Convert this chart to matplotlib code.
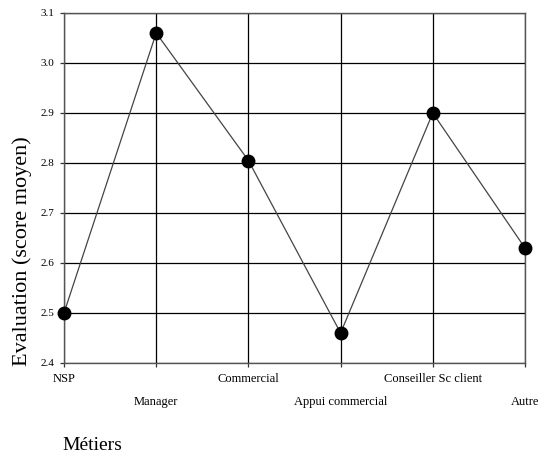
import matplotlib
matplotlib.use("Agg")
import matplotlib.pyplot as plt

categories = ["NSP", "Manager", "Commercial", "Appui commercial", "Conseiller Sc client", "Autre"]
scores = [2.50, 3.06, 2.805, 2.46, 2.90, 2.63]
yticks = [2.4, 2.5, 2.6, 2.7, 2.8, 2.9, 3.0, 3.1]

plt.rcParams['font.family'] = ['Liberation Serif', 'DejaVu Serif']

fig = plt.figure(figsize=(5.43, 4.53), dpi=100)
ax = fig.add_axes([64/543, 1-363/453, (525-64)/543, (363-13)/453])

x = list(range(len(categories)))
ax.plot(x, scores, color='#444444', lw=0.9, marker='o', markersize=9,
        markerfacecolor='black', markeredgecolor='black', zorder=3, clip_on=False)

ax.set_xlim(0, len(categories)-1)
ax.set_ylim(2.4, 3.1)
ax.set_yticks(yticks)
ax.set_yticklabels([f"{v:.1f}" for v in yticks], fontsize=8)
ax.set_xticks(x)
ax.set_xticklabels(categories, fontsize=9)
ax.grid(True, color='black', lw=0.9)
ax.set_axisbelow(True)
for s in ax.spines.values():
    s.set_color('#555555')
    s.set_linewidth(1.0)
ax.tick_params(axis='both', length=3, width=0.9, color='#333333')
ax.tick_params(axis='y', pad=4)
ax.tick_params(axis='x', pad=4)
for i, t in enumerate(ax.xaxis.get_major_ticks()):
    if i % 2 == 1:
        t.set_pad(4 + 16.5)

fig.text(22/543, 1-251/453, "Evaluation (score moyen)", fontsize=16,
         rotation=90, ha='center', va='center')
fig.text(92.5/543, 1-445/453, "Métiers", fontsize=14, ha='center', va='center')

fig.savefig("out.png", dpi=100)
